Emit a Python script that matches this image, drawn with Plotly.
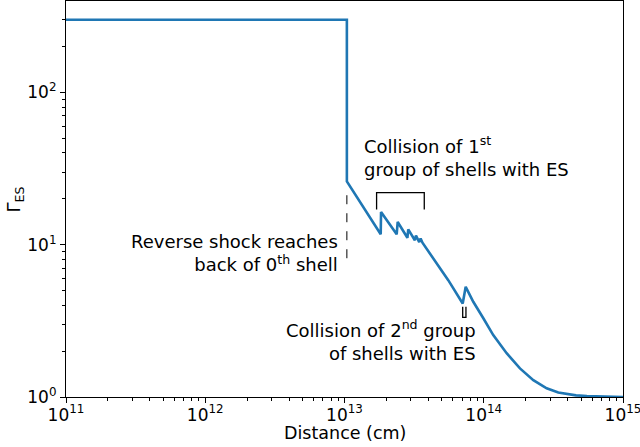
import plotly.graph_objects as go

# Main curve: distance (cm) vs Lorentz factor of ES
distance = [1e11, 1.04e13, 1.04e13, 1.82e13, 1.83e13, 2.37e13, 2.41e13, 2.83e13, 2.87e13,
            3.2e13, 3.26e13, 3.44e13, 3.52e13, 3.63e13, 5.56e13, 7.06e13, 7.42e13,
            8.41e13, 9.93e13, 1.17e14, 1.46e14, 1.82e14, 2.27e14, 2.83e14, 3.43e14,
            4.0e14, 4.6e14, 5.5e14, 7e14, 1e15]
gamma_es = [300, 300, 26, 11.7, 16.4, 11.7, 14.1, 11.1, 12.6,
            10.7, 11.5, 10.4, 11.0, 10.3, 5.85, 4.11, 5.29,
            4.22, 3.29, 2.55, 1.94, 1.54, 1.29, 1.14, 1.07,
            1.04, 1.025, 1.015, 1.005, 1.0]

# Annotation guides
dash_x = [1.04e13, 1.04e13]
dash_y = [8.15, 24.2]
bracket1_x = [1.70e13, 1.70e13, 3.74e13, 3.74e13]
bracket1_y = [17.0, 22.0, 22.0, 17.0]
bracket2_x = [7.06e13, 7.06e13, 7.45e13, 7.45e13]
bracket2_y = [3.91, 3.33, 3.33, 3.91]

x_ticks = [1e11, 1e12, 1e13, 1e14, 1e15]
x_ticktext = ["10<sup>11</sup>", "10<sup>12</sup>", "10<sup>13</sup>", "10<sup>14</sup>", "10<sup>15</sup>"]
y_ticks = [1, 10, 100]
y_ticktext = ["10<sup>0</sup>", "10<sup>1</sup>", "10<sup>2</sup>"]

x_minor = [k * 10 ** e for e in range(11, 15) for k in range(2, 10)]
y_minor = [k * 10 ** e for e in range(0, 3) for k in range(2, 10) if k * 10 ** e < 400]

fig = go.Figure()
fig.add_trace(go.Scatter(x=distance, y=gamma_es, mode="lines",
                         line=dict(color="#1f77b4", width=2.6, shape="linear"), hoverinfo="skip"))
fig.add_trace(go.Scatter(x=dash_x, y=dash_y, mode="lines",
                         line=dict(color="black", width=1, dash="dash")))
fig.add_trace(go.Scatter(x=bracket1_x, y=bracket1_y, mode="lines",
                         line=dict(color="black", width=1.3)))
fig.add_trace(go.Scatter(x=bracket2_x, y=bracket2_y, mode="lines",
                         line=dict(color="black", width=1.3)))

font = dict(family="DejaVu Sans", size=18, color="black")
tick_font = dict(family="DejaVu Sans", size=17, color="black")
title_font = dict(family="DejaVu Sans", size=17.5, color="black")

fig.add_annotation(x=12.968, y=0.945, xref="x", yref="y", xanchor="right", yanchor="middle",
                   align="right", showarrow=False, font=font,
                   text="Reverse shock reaches<br>back of 0<sup>th</sup> shell")
fig.add_annotation(x=13.126, y=1.579, xref="x", yref="y", xanchor="left", yanchor="middle",
                   align="left", showarrow=False, font=font,
                   text="Collision of 1<sup>st</sup><br>group of shells with ES")
fig.add_annotation(x=13.959, y=0.368, xref="x", yref="y", xanchor="right", yanchor="middle",
                   align="right", showarrow=False, font=font,
                   text="Collision of 2<sup>nd</sup> group<br>of shells with ES")

# Axis titles
fig.add_annotation(x=0.5, y=-0.0905, xref="paper", yref="paper", xanchor="center",
                   yanchor="middle", showarrow=False, font=title_font, text="Distance (cm)")
fig.add_annotation(x=-0.0907, y=0.5, xref="paper", yref="paper", xanchor="center",
                   yanchor="middle", showarrow=False, font=font, textangle=-90,
                   text="Γ<sub>ES</sub>")

axis_common = dict(showline=True, linecolor="black", linewidth=1.2, mirror=True,
                   ticks="outside", ticklen=5, tickwidth=1.2, tickcolor="black",
                   showgrid=False, zeroline=False, tickfont=tick_font, automargin=False,
                   ticklabeloverflow="allow")

fig.update_xaxes(type="log", range=[11, 15], tickmode="array", tickvals=x_ticks,
                 ticktext=x_ticktext, ticklabelstandoff=-3,
                 minor=dict(tickmode="array", tickvals=x_minor, ticks="outside",
                            ticklen=3, tickwidth=1, tickcolor="black"),
                 **axis_common)
fig.update_yaxes(type="log", range=[0, 2.6], tickmode="array", tickvals=y_ticks,
                 ticktext=y_ticktext,
                 minor=dict(tickmode="array", tickvals=y_minor, ticks="outside",
                            ticklen=3, tickwidth=1, tickcolor="black"),
                 **axis_common)

fig.update_layout(width=640, height=447, margin=dict(l=66, r=17, t=1, b=50),
                  plot_bgcolor="white", paper_bgcolor="white", showlegend=False,
                  font=font)

fig.write_html("out.html", config={"displayModeBar": False},
               post_script="document.body.style.margin='0';")
